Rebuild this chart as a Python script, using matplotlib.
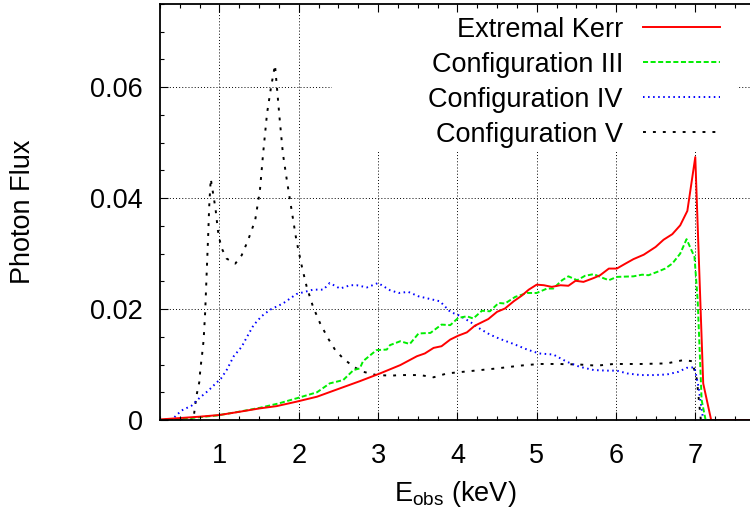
import matplotlib
matplotlib.use("Agg")
import matplotlib.pyplot as plt
from matplotlib.patches import Rectangle
from matplotlib.ticker import MultipleLocator

plt.rcParams['font.family'] = ['Liberation Sans', 'DejaVu Sans']
plt.rcParams['mathtext.default'] = 'regular'

# ---------------- data ----------------
kerr_x = [0.25, 0.75, 1.0, 1.26, 1.51, 1.72, 1.97, 2.23, 2.48, 2.77, 3.025, 3.28, 3.49, 3.59,
          3.70, 3.80, 3.91, 4.01, 4.12, 4.22, 4.39, 4.50, 4.60, 4.71, 4.81, 4.90, 5.00, 5.09,
          5.19, 5.30, 5.40, 5.49, 5.59, 5.72, 5.80, 5.91, 6.01, 6.12, 6.22, 6.35, 6.50, 6.60,
          6.71, 6.81, 6.90, 7.00, 7.10, 7.20, 7.69]
kerr_y = [0.0001, 0.0006, 0.0009, 0.0015, 0.0021, 0.0025, 0.0033, 0.0042, 0.0055, 0.0070, 0.0084,
          0.0099, 0.0115, 0.0120, 0.0130, 0.0133, 0.0145, 0.0152, 0.0158, 0.0170, 0.0182, 0.0195,
          0.0201, 0.0214, 0.0224, 0.0235, 0.0244, 0.0243, 0.0240, 0.0243, 0.0242, 0.0251, 0.0249,
          0.0256, 0.0261, 0.0273, 0.0273, 0.0282, 0.0290, 0.0298, 0.0312, 0.0325, 0.0335, 0.0351,
          0.0377, 0.0474, 0.0066, 0.0, 0.0]

conf3_x = [0.25, 0.6, 0.96, 1.25, 1.51, 1.75, 1.97, 2.23, 2.39, 2.56, 2.69, 2.77, 2.81, 2.98,
           3.11, 3.15, 3.28, 3.40, 3.51, 3.66, 3.80, 3.91, 4.01, 4.12, 4.20, 4.31, 4.41, 4.52,
           4.60, 4.73, 4.88, 5.00, 5.13, 5.21, 5.32, 5.40, 5.51, 5.61, 5.72, 5.80, 5.91, 6.01,
           6.22, 6.33, 6.41, 6.52, 6.62, 6.71, 6.81, 6.89, 6.99, 7.03, 7.08, 7.13, 7.69]
conf3_y = [0.0, 0.0003, 0.0008, 0.0015, 0.0022, 0.0030, 0.0039, 0.0050, 0.0066, 0.0072, 0.0090,
           0.0093, 0.0106, 0.0126, 0.0127, 0.0135, 0.0142, 0.0137, 0.0156, 0.0157, 0.0172, 0.0171,
           0.0184, 0.0187, 0.0183, 0.0197, 0.0196, 0.0211, 0.0210, 0.0222, 0.0229, 0.0229, 0.0237,
           0.0237, 0.0252, 0.0259, 0.0252, 0.0260, 0.0263, 0.0258, 0.0252, 0.0258, 0.0259, 0.0262,
           0.0261, 0.0267, 0.0273, 0.0282, 0.0300, 0.0326, 0.0294, 0.0216, 0.0036, 0.0, 0.0]

conf4_x = [0.25, 0.41, 0.52, 0.65, 0.75, 0.86, 0.96, 1.02, 1.09, 1.18, 1.28, 1.34, 1.43, 1.53,
           1.64, 1.80, 1.97, 2.18, 2.31, 2.39, 2.52, 2.65, 2.73, 2.86, 3.00, 3.15, 3.26, 3.38,
           3.51, 3.66, 3.78, 3.91, 4.03, 4.16, 4.29, 4.41, 4.54, 4.71, 4.88, 5.03, 5.21, 5.38,
           5.54, 5.72, 5.89, 6.01, 6.14, 6.31, 6.47, 6.64, 6.79, 6.89, 6.99, 7.04, 7.10, 7.69]
conf4_y = [0.0, 0.0002, 0.0017, 0.0026, 0.0040, 0.0053, 0.0067, 0.0075, 0.0090, 0.0115, 0.0132,
           0.0148, 0.0171, 0.0187, 0.0199, 0.0210, 0.0227, 0.0235, 0.0235, 0.0247, 0.0237, 0.0243,
           0.0243, 0.0239, 0.0247, 0.0234, 0.0229, 0.0231, 0.0223, 0.0218, 0.0214, 0.0195, 0.0188,
           0.0177, 0.0164, 0.0154, 0.0146, 0.0137, 0.0127, 0.0120, 0.0118, 0.0105, 0.0096, 0.0090,
           0.0089, 0.0089, 0.0084, 0.0081, 0.0081, 0.0082, 0.0087, 0.0094, 0.0095, 0.0060, 0.0, 0.0]

conf5_x = [0.25, 0.67, 0.71, 0.745, 0.76, 0.78, 0.80, 0.82, 0.84, 0.86, 0.87, 0.89, 0.92, 0.95,
           0.98, 1.02, 1.09, 1.20, 1.28, 1.36, 1.45, 1.51, 1.55, 1.60, 1.65, 1.70, 1.72, 1.76,
           1.80, 1.85, 1.91, 1.97, 2.04, 2.10, 2.18, 2.27, 2.37, 2.46, 2.56, 2.69, 2.81, 2.98,
           3.17, 3.28, 3.53, 3.70, 3.87, 4.08, 4.29, 4.50, 4.79, 5.03, 5.28, 5.54, 5.76, 5.97,
           6.31, 6.64, 6.85, 6.96, 7.02, 7.07, 7.69]
conf5_y = [0.0, 0.0, 0.0044, 0.0068, 0.0093, 0.0117, 0.0144, 0.0196, 0.0270, 0.0342, 0.0384,
           0.0435, 0.0408, 0.0381, 0.0342, 0.0312, 0.0291, 0.0282, 0.0297, 0.0324, 0.0360, 0.0414,
           0.0480, 0.0553, 0.0600, 0.0640, 0.0607, 0.0541, 0.0480, 0.0432, 0.0378, 0.0324, 0.0276,
           0.0240, 0.0204, 0.0174, 0.0147, 0.0126, 0.0111, 0.0096, 0.0087, 0.0081, 0.0080, 0.0081,
           0.0081, 0.0077, 0.0084, 0.0087, 0.0090, 0.0093, 0.0098, 0.0101, 0.0101, 0.0100, 0.0098,
           0.0101, 0.0101, 0.0102, 0.0108, 0.0106, 0.0073, 0.0, 0.0]

labels = ["Extremal Kerr", "Configuration III", "Configuration IV", "Configuration V"]
x_ticks = [1, 2, 3, 4, 5, 6, 7]
y_ticks = [0, 0.02, 0.04, 0.06]
y_tick_labels = ["0", "0.02", "0.04", "0.06"]

# ---------------- figure ----------------
fig = plt.figure(figsize=(7.5, 5.13), dpi=100)
ax = fig.add_axes([160 / 750, 93 / 513, 590 / 750, 416 / 513])
ax.set_xlim(0.25, 7.69)
ax.set_ylim(0, 0.075)

FS = 19.5
ax.set_xticks(x_ticks)
ax.set_xticklabels([str(t) for t in x_ticks])
ax.set_yticks(y_ticks)
ax.set_yticklabels(y_tick_labels)
ax.xaxis.set_minor_locator(MultipleLocator(0.25))
ax.yaxis.set_minor_locator(MultipleLocator(0.005))
ax.tick_params(which='both', direction='in', top=True, right=False, width=0.8, colors='black')
ax.tick_params(which='major', length=5.8)
ax.tick_params(which='minor', length=2.9)
ax.tick_params(axis='x', which='major', labelsize=FS, pad=16.5)
ax.tick_params(axis='y', which='major', labelsize=FS, pad=12.5)
ax.set_axisbelow(False)

for s in ['left', 'top', 'bottom']:
    ax.spines[s].set_linewidth(1.3)
ax.spines['right'].set_visible(False)

# dotted grid at major ticks
for xt in x_ticks:
    ax.axvline(xt, color='black', lw=0.7, ls=(0, (1, 2.2)), zorder=0.8)
for yt in y_ticks[1:]:
    ax.axhline(yt, color='black', lw=0.7, ls=(0, (1, 2.2)), zorder=0.8)

# opaque key box
ax.add_patch(Rectangle((0.2915, 0.644), 0.978 - 0.2915, 0.356, transform=ax.transAxes,
                       facecolor='white', edgecolor='none', zorder=1))

LW = 1.4
ax.plot(kerr_x, kerr_y, color='#ff0000', lw=LW, label=labels[0], zorder=2.3)
ax.plot(conf3_x, conf3_y, color='#00ee00', lw=LW, dashes=(2.6, 1.3), label=labels[1], zorder=2.2)
ax.plot(conf4_x, conf4_y, color='#0000ff', lw=LW, dashes=(0.8, 1.8), label=labels[2], zorder=2.1)
ax.plot(conf5_x, conf5_y, color='black', lw=LW, dashes=(1.5, 3.6), label=labels[3], zorder=2.0)

leg = ax.legend(loc='upper right', bbox_to_anchor=(0.949, 0.969), frameon=False,
                markerfirst=False, fontsize=FS, handlelength=2.84, handletextpad=0.74,
                labelspacing=0.33, borderaxespad=0, borderpad=0)
leg.set_zorder(3)

ax.set_xlabel('E$_{obs}$ (keV)', fontsize=FS)
ax.xaxis.set_label_coords(0.5, -0.142)
ax.set_ylabel('Photon Flux', fontsize=FS, va='center')
ax.yaxis.set_label_coords(-0.232, 0.5)

fig.savefig('out.png', dpi=100)
